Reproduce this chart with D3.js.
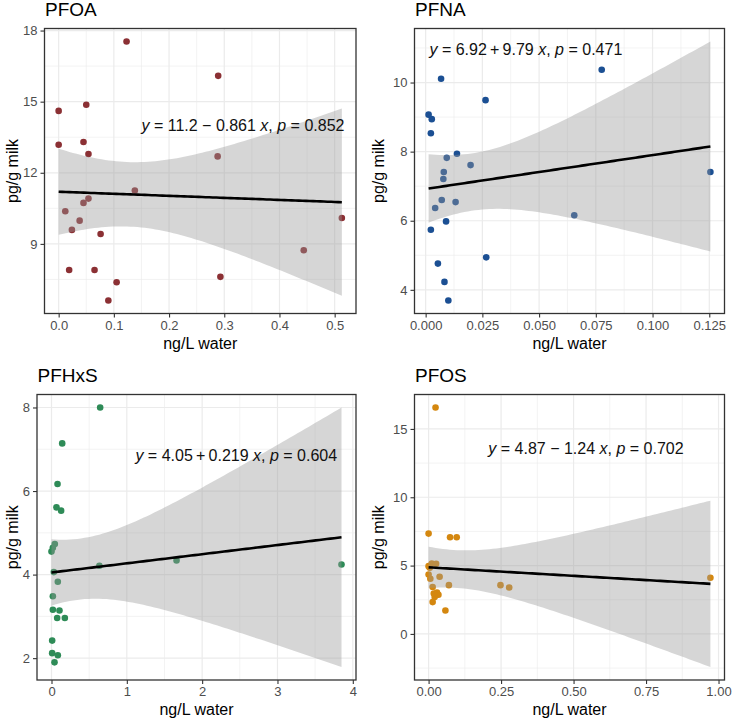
<!DOCTYPE html>
<html>
<head>
<meta charset="utf-8">
<script src="https://cdn.jsdelivr.net/npm/d3@7"></script>
<style>
  body { margin: 0; background: #fff; }
  svg { display: block; font-family: Arial, "Liberation Sans", sans-serif; }
</style>
</head>
<body>
<svg width="733" height="720"></svg>
<script>
// values (ng/L in water, pg/g in milk)
const pfoaWater = [0.123, 0.289, 0.000, 0.050, 0.000, 0.045, 0.054, 0.288, 0.138, 0.054, 0.045,
  0.012, 0.038, 0.024, 0.076, 0.513, 0.444, 0.019, 0.065, 0.293, 0.105, 0.090];
const pfoaMilk = [17.54, 16.09, 14.61, 14.87, 13.18, 13.30, 12.79, 12.69, 11.25, 10.91, 10.73,
  10.38, 9.98, 9.59, 9.42, 10.09, 8.73, 7.90, 7.90, 7.61, 7.38, 6.61];

const pfnaWater = [0.0068, 0.0776, 0.0264, 0.0013, 0.0027, 0.0023, 0.0138, 0.0093, 0.0198, 0.1255, 0.0080,
  0.0078, 0.0071, 0.0132, 0.0042, 0.0655, 0.0090, 0.0023, 0.0267, 0.0054, 0.0083, 0.0100];
const pfnaMilk = [10.11, 10.37, 9.49, 9.07, 8.94, 8.53, 7.94, 7.82, 7.61, 7.41, 7.41,
  7.21, 6.60, 6.54, 6.37, 6.16, 5.98, 5.74, 4.94, 4.76, 4.23, 3.69];

const pfhxsWater = [0.646, 0.142, 0.080, 0.066, 0.128, 0.044, 0.018, 0.000, 0.636, 1.66, 3.85,
  0.031, 0.084, 0.018, 0.018, 0.106, 0.075, 0.177, 0.009, 0.009, 0.084, 0.040];
const pfhxsMilk = [8.00, 7.14, 6.17, 5.61, 5.53, 4.73, 4.64, 4.55, 4.21, 4.34, 4.24,
  4.06, 3.83, 3.48, 3.16, 3.14, 2.96, 2.96, 2.42, 2.12, 2.07, 1.90];

const pfosWater = [0.024, 0.000, 0.074, 0.097, 0.000, 0.011, 0.026, 0.000, 0.006, 0.038, 0.014,
  0.070, 0.248, 0.278, 0.972, 0.029, 0.034, 0.021, 0.014, 0.058, 0.004, 0.018];
const pfosMilk = [16.57, 7.34, 7.07, 7.07, 4.96, 5.15, 5.13, 4.35, 4.04, 4.18, 3.43,
  3.57, 3.57, 3.40, 4.11, 3.02, 2.87, 2.70, 2.33, 1.71, 4.85, 2.95];

const compounds = ["PFOA", "PFNA", "PFHxS", "PFOS"];
// fitted lines as printed on each panel
const intercepts = [11.2, 6.92, 4.05, 4.87];
const slopes = [-0.861, 9.79, 0.219, -1.24];
const pValues = ["0.852", "0.471", "0.604", "0.702"];
// where each equation label starts, in data units
const eqAnchors = [[0.150, 13.78], [0.0017, 10.81], [1.114, 6.72], [0.206, 13.15]];
const xTicks = [
  [0, 0.1, 0.2, 0.3, 0.4, 0.5],
  [0, 0.025, 0.05, 0.075, 0.1, 0.125],
  [0, 1, 2, 3, 4],
  [0, 0.25, 0.5, 0.75, 1],
];
const yTicks = [[9, 12, 15, 18], [4, 6, 8, 10], [2, 4, 6, 8], [0, 5, 10, 15]];
const xFormats = [".1f", ".3f", "d", ".2f"];
const colors = ["#8B3034", "#1B4F93", "#2E8B57", "#D4870F"];

const series = [
  [pfoaWater, pfoaMilk],
  [pfnaWater, pfnaMilk],
  [pfhxsWater, pfhxsMilk],
  [pfosWater, pfosMilk],
];

// panel boxes in pixels
const boxes = [
  { left: 44.5, top: 28.5, right: 356, bottom: 313.5, col: 0 },
  { left: 414.5, top: 28.5, right: 724.5, bottom: 313.5, col: 366 },
  { left: 37, top: 394.5, right: 356, bottom: 680, col: 0 },
  { left: 414.5, top: 394.5, right: 724.5, bottom: 680, col: 366 },
];

const T975 = { 18: 2.101, 19: 2.093, 20: 2.086, 21: 2.08, 22: 2.074, 23: 2.069 };

const svg = d3.select("svg");

const expand = ([a, b]) => [a - (b - a) * 0.05, b + (b - a) * 0.05];

const minorOf = (ticks, domain) => {
  const step = ticks[1] - ticks[0];
  const m = [ticks[0] - step / 2, ...ticks.map((t) => t + step / 2)];
  return m.filter((v) => v >= domain[0] && v <= domain[1]);
};

const drawPanel = (i) => {
  const box = boxes[i];
  const [water, milk] = series[i];
  const a = intercepts[i];
  const b = slopes[i];
  const n = water.length;
  const mx = d3.mean(water);
  const sxx = d3.sum(water, (w) => (w - mx) ** 2);
  const rss = d3.sum(water, (w, k) => (milk[k] - a - b * w) ** 2);
  const s = Math.sqrt(rss / (n - 2));
  const t = T975[n - 2];
  const [x0, x1] = d3.extent(water);
  const band = d3.range(80).map((k) => {
    const xv = x0 + ((x1 - x0) * k) / 79;
    const fit = a + b * xv;
    const se = s * Math.sqrt(1 / n + (xv - mx) ** 2 / sxx);
    return { x: xv, fit, lo: fit - t * se, hi: fit + t * se };
  });

  const xDom = expand([x0, x1]);
  const yDom = expand(d3.extent([...milk, ...band.map((d) => d.lo), ...band.map((d) => d.hi)]));
  const x = d3.scaleLinear().domain(xDom).range([box.left, box.right]);
  const y = d3.scaleLinear().domain(yDom).range([box.bottom, box.top]);

  const g = svg.append("g");

  // grid
  const grid = g.append("g").attr("stroke", "#EBEBEB").attr("fill", "none");
  minorOf(xTicks[i], xDom).forEach((v) =>
    grid.append("line").attr("stroke-width", 0.6)
      .attr("x1", x(v)).attr("x2", x(v)).attr("y1", box.top).attr("y2", box.bottom));
  minorOf(yTicks[i], yDom).forEach((v) =>
    grid.append("line").attr("stroke-width", 0.6)
      .attr("y1", y(v)).attr("y2", y(v)).attr("x1", box.left).attr("x2", box.right));
  xTicks[i].forEach((v) =>
    grid.append("line").attr("stroke-width", 1.2)
      .attr("x1", x(v)).attr("x2", x(v)).attr("y1", box.top).attr("y2", box.bottom));
  yTicks[i].forEach((v) =>
    grid.append("line").attr("stroke-width", 1.2)
      .attr("y1", y(v)).attr("y2", y(v)).attr("x1", box.left).attr("x2", box.right));

  // points
  g.append("g")
    .selectAll("circle")
    .data(water)
    .join("circle")
    .attr("cx", (w) => x(w))
    .attr("cy", (w, k) => y(milk[k]))
    .attr("r", 3.3)
    .attr("fill", colors[i]);

  // confidence ribbon, drawn on top like geom_smooth
  g.append("path")
    .datum(band)
    .attr("fill", "#999999")
    .attr("fill-opacity", 0.4)
    .attr("d", d3.area().x((d) => x(d.x)).y0((d) => y(d.lo)).y1((d) => y(d.hi)));

  g.append("path")
    .datum(band)
    .attr("fill", "none")
    .attr("stroke", "#000")
    .attr("stroke-width", 2.6)
    .attr("d", d3.line().x((d) => x(d.x)).y((d) => y(d.fit)));

  // border
  g.append("rect")
    .attr("x", box.left).attr("y", box.top)
    .attr("width", box.right - box.left).attr("height", box.bottom - box.top)
    .attr("fill", "none").attr("stroke", "#333").attr("stroke-width", 1.3);

  // axes
  const xAxis = g.append("g")
    .attr("transform", `translate(0,${box.bottom})`)
    .call(d3.axisBottom(x).tickValues(xTicks[i]).tickFormat(d3.format(xFormats[i]))
      .tickSizeOuter(0).tickSize(4).tickPadding(3));
  const yAxis = g.append("g")
    .attr("transform", `translate(${box.left},0)`)
    .call(d3.axisLeft(y).tickValues(yTicks[i]).tickFormat(d3.format("d"))
      .tickSizeOuter(0).tickSize(4).tickPadding(3));
  [xAxis, yAxis].forEach((ax) => {
    ax.select(".domain").remove();
    ax.selectAll(".tick line").attr("stroke", "#333").attr("stroke-width", 1.1);
    ax.selectAll(".tick text").attr("fill", "#4D4D4D").attr("font-size", 13)
      .attr("font-family", "Arial, 'Liberation Sans', sans-serif");
  });

  // titles
  g.append("text")
    .attr("x", box.left + 0.5)
    .attr("y", box.top - 12.5)
    .attr("font-size", 19)
    .attr("fill", "#000")
    .text(compounds[i]);

  g.append("text")
    .attr("x", (box.left + box.right) / 2)
    .attr("y", box.bottom + 35)
    .attr("text-anchor", "middle")
    .attr("font-size", 16)
    .attr("fill", "#000")
    .text("ng/L water");

  g.append("text")
    .attr("transform", `translate(${box.col + 18},${(box.top + box.bottom) / 2}) rotate(-90)`)
    .attr("text-anchor", "middle")
    .attr("font-size", 16)
    .attr("fill", "#000")
    .text("pg/g milk");

  // regression equation
  const op = b < 0 ? " \u2212 " : "\u2009+\u2009";
  const eq = g.append("text")
    .attr("x", x(eqAnchors[i][0]))
    .attr("y", y(eqAnchors[i][1]))
    .attr("font-size", 16)
    .attr("fill", "#111");
  eq.append("tspan").attr("font-style", "italic").text("y");
  eq.append("tspan").text(` = ${a}${op}${Math.abs(b)} `);
  eq.append("tspan").attr("font-style", "italic").text("x");
  eq.append("tspan").text(", ");
  eq.append("tspan").attr("font-style", "italic").text("p");
  eq.append("tspan").text(` = ${pValues[i]}`);
};

compounds.forEach((c, i) => drawPanel(i));
</script>
</body>
</html>
